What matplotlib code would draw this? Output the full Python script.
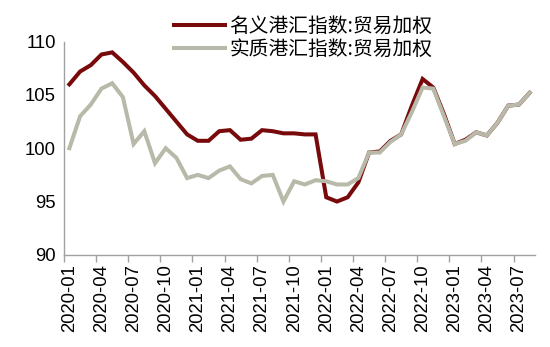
import numpy as np
import matplotlib.pyplot as plt

plt.rcParams['font.family'] = ['Liberation Sans', 'DejaVu Sans']

# monthly index values, 2020-01 .. 2023-08
months = ['2020-01', '2020-02', '2020-03', '2020-04', '2020-05', '2020-06',
          '2020-07', '2020-08', '2020-09', '2020-10', '2020-11', '2020-12',
          '2021-01', '2021-02', '2021-03', '2021-04', '2021-05', '2021-06',
          '2021-07', '2021-08', '2021-09', '2021-10', '2021-11', '2021-12',
          '2022-01', '2022-02', '2022-03', '2022-04', '2022-05', '2022-06',
          '2022-07', '2022-08', '2022-09', '2022-10', '2022-11', '2022-12',
          '2023-01', '2023-02', '2023-03', '2023-04', '2023-05', '2023-06',
          '2023-07', '2023-08']

nominal = [106.0, 107.2, 107.8, 108.8, 109.0, 108.1, 107.1, 105.9, 104.9, 103.7,
           102.5, 101.3, 100.7, 100.7, 101.6, 101.7, 100.8, 100.9, 101.7, 101.6,
           101.4, 101.4, 101.3, 101.3, 95.4, 95.0, 95.4, 96.8, 99.6, 99.7,
           100.7, 101.3, 104.0, 106.5, 105.7, 103.2, 100.4, 100.8, 101.5, 101.2,
           102.4, 104.0, 104.1, 105.2]

real = [100.0, 103.0, 104.1, 105.6, 106.1, 104.8, 100.4, 101.6, 98.6, 100.0,
        99.1, 97.2, 97.5, 97.2, 97.9, 98.3, 97.1, 96.7, 97.4, 97.5,
        95.0, 96.9, 96.6, 97.0, 96.9, 96.6, 96.6, 97.2, 99.6, 99.6,
        100.6, 101.3, 103.4, 105.7, 105.6, 103.0, 100.4, 100.7, 101.5, 101.2,
        102.4, 104.0, 104.1, 105.2]

x = np.arange(len(months))

fig = plt.figure(figsize=(5.5, 3.47), dpi=100)
ax = fig.add_axes([0.1164, 0.2657, 0.8563, 0.6141])

ax.plot(x, nominal, color='#780a0c', lw=2.9, solid_joinstyle='miter',
        label='名义港汇指数:贸易加权')
ax.plot(x, real, color='#b9b9a9', lw=2.9, solid_joinstyle='miter',
        label='实质港汇指数:贸易加权')

ax.set_xlim(-0.5, len(months) - 0.5)
ax.set_ylim(90, 110)
ax.set_yticks([90, 95, 100, 105, 110])

# labels sit on every third month, tick marks on the category edges
lab_pos = x[::3]
ax.set_xticks(lab_pos)
ax.set_xticklabels([months[i] for i in lab_pos], rotation=90)
ax.set_xticks(lab_pos - 0.5, minor=True)
ax.tick_params(axis='x', which='major', length=0, pad=7, labelsize=13.3)
ax.tick_params(axis='x', which='minor', length=5, width=1, color='#a0a0a0')
ax.tick_params(axis='y', length=0, pad=6, labelsize=13.3)

for s in ['top', 'right']:
    ax.spines[s].set_visible(False)
for s in ['left', 'bottom']:
    ax.spines[s].set_color('#a0a0a0')
    ax.spines[s].set_linewidth(1)

fig.legend(loc='upper left', bbox_to_anchor=(174 / 550, 1 - 16 / 347),
           frameon=False, borderpad=0, borderaxespad=0, handlelength=2.6,
           handletextpad=0.2, labelspacing=0.12,
           prop={'family': ['Noto Sans CJK SC', 'DejaVu Sans'], 'size': 14.2})

fig.savefig('out.png', dpi=100)
